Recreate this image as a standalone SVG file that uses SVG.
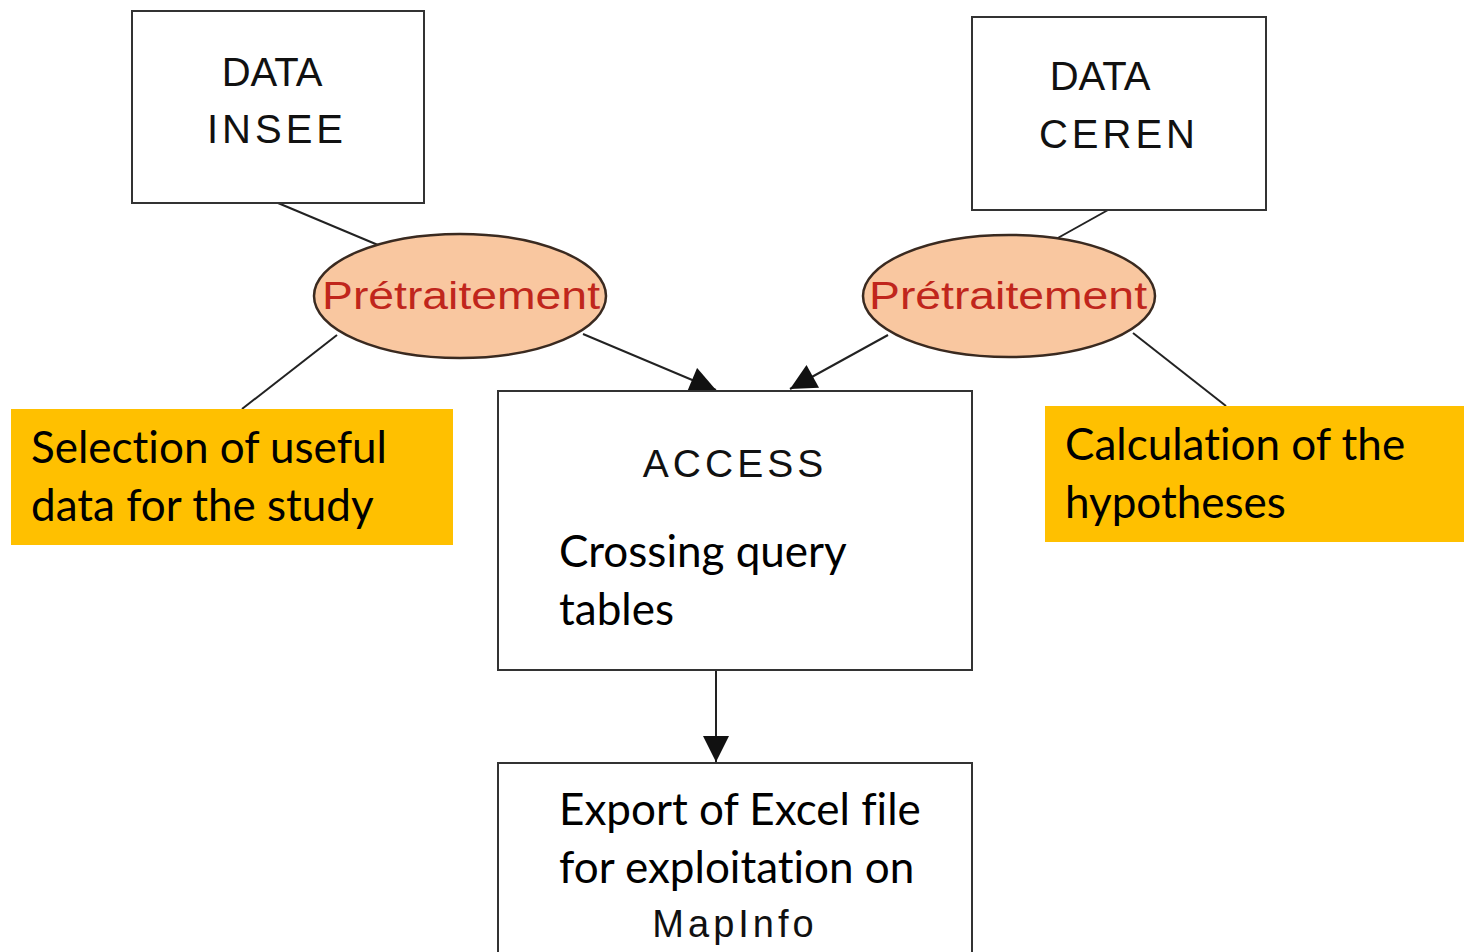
<svg xmlns="http://www.w3.org/2000/svg" width="1464" height="952" viewBox="0 0 1464 952">
<defs>
<style>
.box{fill:#fff;stroke:#333;stroke-width:2}
.ell{fill:#F9C7A0;stroke:#3a2a20;stroke-width:2.5}
.note{fill:#FFC000}
.ar{font-family:"Liberation Sans",Arial,sans-serif;fill:#111}
.pre{font-family:"Liberation Sans",Arial,sans-serif;font-size:38px;fill:#C0261C;text-anchor:middle}
.cal{font-family:Lato,"Open Sans",sans-serif;font-size:44px;fill:#000;font-variant-ligatures:none;font-feature-settings:"liga" 0,"dlig" 0}
.edge{stroke:#222;stroke-width:2;fill:none}
</style>
<marker id="ahb" viewBox="0 0 10 10" refX="10" refY="5" markerWidth="28" markerHeight="26" markerUnits="userSpaceOnUse" orient="auto">
<path d="M0,0 L10,5 L0,10 z" fill="#111"/>
</marker>
</defs>
<rect width="1464" height="952" fill="#fff"/>
<g id="connectors">
<line class="edge" x1="278" y1="203" x2="378" y2="245"/>
<line class="edge" x1="337" y1="335" x2="242" y2="409"/>
<line class="edge" x1="583" y1="334" x2="716" y2="390" marker-end="url(#ahb)"/>
<line class="edge" x1="1108" y1="210" x2="1056" y2="239"/>
<line class="edge" x1="888" y1="335" x2="790" y2="389" marker-end="url(#ahb)"/>
<line class="edge" x1="1133" y1="333" x2="1226" y2="406"/>
<line class="edge" x1="716" y1="670" x2="716" y2="762" marker-end="url(#ahb)"/>
</g>
<g id="insee">
<rect class="box" x="132" y="11" width="292" height="192"/>
<text class="ar" x="272" y="86" font-size="40" text-anchor="middle">DATA</text>
<text class="ar" x="277" y="143" font-size="40" text-anchor="middle" fill="#222" letter-spacing="4">INSEE</text>
</g>
<g id="ceren">
<rect class="box" x="972" y="17" width="294" height="193"/>
<text class="ar" x="1100" y="90" font-size="40" text-anchor="middle">DATA</text>
<text class="ar" x="1119" y="148" font-size="40" text-anchor="middle" fill="#222" letter-spacing="4">CEREN</text>
</g>
<g id="pre1">
<ellipse class="ell" cx="460" cy="296" rx="146" ry="62"/>
<text class="pre" x="461" y="309" textLength="278" lengthAdjust="spacingAndGlyphs">Prétraitement</text>
</g>
<g id="pre2">
<ellipse class="ell" cx="1009" cy="296" rx="146" ry="61"/>
<text class="pre" x="1008" y="309" textLength="278" lengthAdjust="spacingAndGlyphs">Prétraitement</text>
</g>
<g id="access">
<rect class="box" x="498" y="391" width="474" height="279"/>
<text class="ar" x="735" y="477" font-size="39" text-anchor="middle" letter-spacing="4" fill="#222">ACCESS</text>
<text class="cal" x="559" y="567">Crossing query</text>
<text class="cal" x="559" y="625">tables</text>
</g>
<g id="export">
<rect class="box" x="498" y="763" width="474" height="200"/>
<text class="cal" x="559" y="825">Export of Excel file</text>
<text class="cal" x="559" y="883">for exploitation on</text>
<text class="ar" x="735" y="937" font-size="38" text-anchor="middle" letter-spacing="4" fill="#222">MapInfo</text>
</g>
<g id="note-left">
<rect class="note" x="11" y="409" width="442" height="136"/>
<text class="cal" x="31" y="463">Selection of useful</text>
<text class="cal" x="31" y="521">data for the study</text>
</g>
<g id="note-right">
<rect class="note" x="1045" y="406" width="419" height="136"/>
<text class="cal" x="1065" y="460">Calculation of the</text>
<text class="cal" x="1065" y="518">hypotheses</text>
</g>
</svg>
